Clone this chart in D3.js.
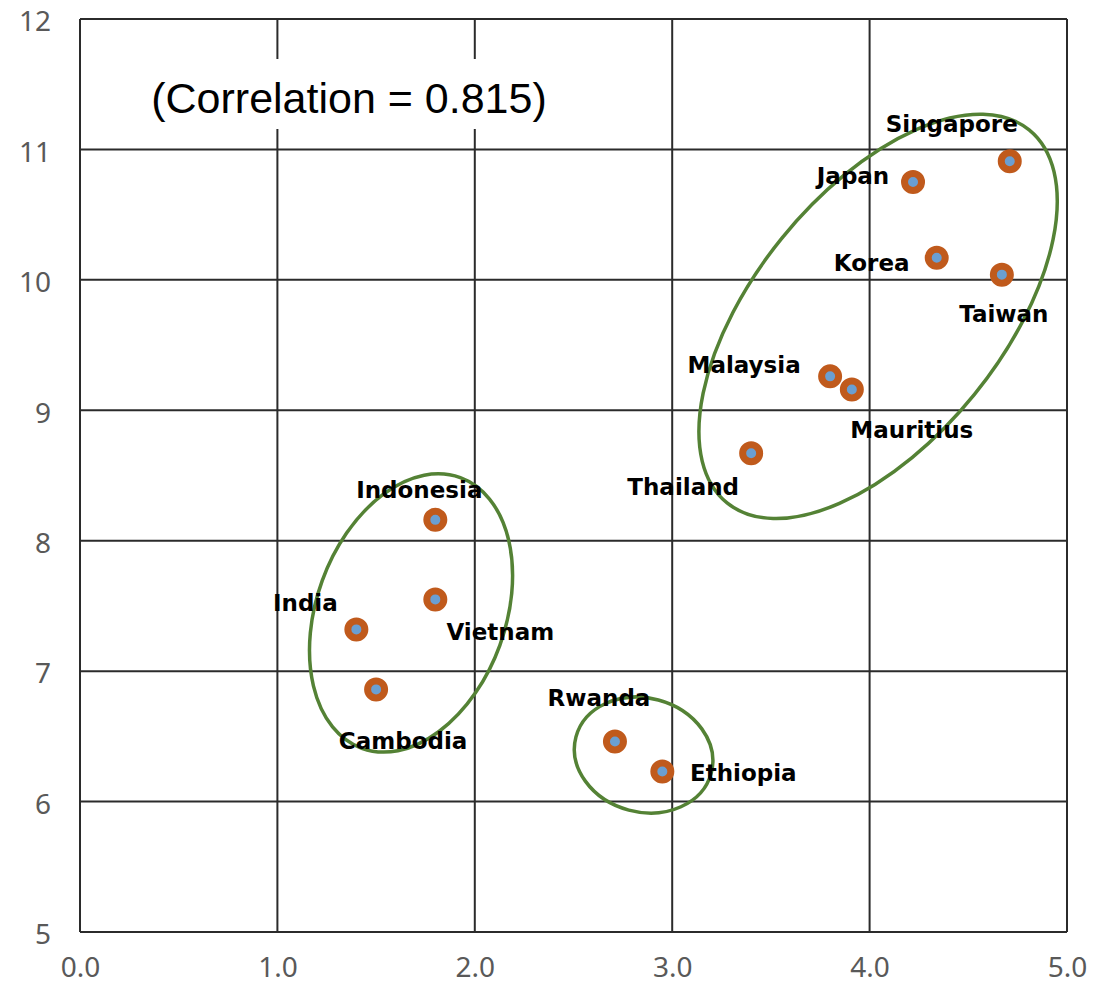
<!DOCTYPE html>
<html>
<head>
<meta charset="utf-8">
<style>
  body { margin: 0; background: #fff; }
  .tick text { font-family: "Noto Sans", "Open Sans", sans-serif; }
</style>
<script src="https://cdn.jsdelivr.net/npm/d3@7"></script>
</head>
<body>
<svg id="chart" width="1107" height="990"></svg>
<script>
// data
var countries = ["Singapore", "Japan", "Korea", "Taiwan", "Malaysia", "Mauritius", "Thailand",
                 "Indonesia", "Vietnam", "India", "Cambodia", "Rwanda", "Ethiopia"];
var xValues = [4.71, 4.22, 4.34, 4.67, 3.80, 3.91, 3.40, 1.80, 1.80, 1.40, 1.50, 2.71, 2.95];
var yValues = [10.91, 10.75, 10.17, 10.04, 9.26, 9.16, 8.67, 8.16, 7.55, 7.32, 6.86, 6.46, 6.23];
var xTicks = [0, 1, 2, 3, 4, 5];
var yTicks = [5, 6, 7, 8, 9, 10, 11, 12];
var title = "(Correlation = 0.815)";

// label placement (pixels from the point, text centred)
var labelOffsets = [[-58, -37], [-60, -6], [-65, 5], [2, 39], [-86, -11], [60, 41], [-68, 34],
                    [-16, -30], [65, 33], [-51, -26], [27, 52], [-16, -44], [81, 1]];

// cluster rings: centre in data units, radii in px, rotation in degrees
var rings = [
  {cx: 4.043, cy: 9.72, rx: 240, ry: 124, rot: -51},
  {cx: 1.677, cy: 7.446, rx: 144, ry: 94.5, rot: -70},
  {cx: 2.855, cy: 6.357, rx: 70, ry: 57, rot: 15}
];

var svg = d3.select("#chart"),
    margin = {top: 19, right: 40, bottom: 58, left: 80},
    width = +svg.attr("width") - margin.left - margin.right,
    height = +svg.attr("height") - margin.top - margin.bottom,
    g = svg.append("g").attr("transform", "translate(" + margin.left + "," + margin.top + ")");

var x = d3.scaleLinear().domain([0, 5]).range([0, width]);
var y = d3.scaleLinear().domain([5, 12]).range([height, 0]);

var gridColor = "#2b2b2b";

// grid
g.append("g").selectAll("line").data(yTicks).enter().append("line")
    .attr("x1", 0).attr("x2", width)
    .attr("y1", function(d) { return y(d); }).attr("y2", function(d) { return y(d); })
    .attr("stroke", gridColor).attr("stroke-width", 2);
g.append("g").selectAll("line").data(xTicks).enter().append("line")
    .attr("y1", 0).attr("y2", height)
    .attr("x1", function(d) { return x(d); }).attr("x2", function(d) { return x(d); })
    .attr("stroke", gridColor).attr("stroke-width", 2);

// axes (labels only)
var xAxis = g.append("g")
    .attr("transform", "translate(0," + height + ")")
    .call(d3.axisBottom(x).tickValues(xTicks).tickFormat(d3.format(".1f")).tickSize(0).tickPadding(25));
var yAxis = g.append("g")
    .call(d3.axisLeft(y).tickValues(yTicks).tickFormat(d3.format("d")).tickSize(0).tickPadding(29));
[xAxis, yAxis].forEach(function(a) {
  a.select(".domain").remove();
  a.selectAll("text").attr("font-size", 28).attr("fill", "#595959");
});
yAxis.selectAll("text").attr("dy", "0.42em");

// title box
var tg = g.append("g");
tg.append("rect")
    .attr("x", 57).attr("y", 40).attr("width", 430).attr("height", 70)
    .attr("fill", "#fff");
tg.append("text")
    .attr("x", 269).attr("y", 94)
    .attr("text-anchor", "middle")
    .attr("font-family", "Liberation Sans, Arial, sans-serif")
    .attr("font-size", 43)
    .attr("fill", "#000")
    .text(title);

// rings
g.append("g").selectAll("ellipse").data(rings).enter().append("ellipse")
    .attr("transform", function(d) {
      return "translate(" + x(d.cx) + "," + y(d.cy) + ") rotate(" + d.rot + ")";
    })
    .attr("rx", function(d) { return d.rx; })
    .attr("ry", function(d) { return d.ry; })
    .attr("fill", "none")
    .attr("stroke", "#548235")
    .attr("stroke-width", 3.5);

// points
var idx = d3.range(countries.length);
g.append("g").selectAll("circle").data(idx).enter().append("circle")
    .attr("cx", function(i) { return x(xValues[i]); })
    .attr("cy", function(i) { return y(yValues[i]); })
    .attr("r", 8.5)
    .attr("fill", "#6a9fd2")
    .attr("stroke", "#c05a1c")
    .attr("stroke-width", 7);

// labels
g.append("g").selectAll("text").data(idx).enter().append("text")
    .attr("x", function(i) { return x(xValues[i]) + labelOffsets[i][0]; })
    .attr("y", function(i) { return y(yValues[i]) + labelOffsets[i][1]; })
    .attr("dy", "0.35em")
    .attr("text-anchor", "middle")
    .attr("font-family", "DejaVu Sans, Verdana, sans-serif")
    .attr("font-weight", "bold")
    .attr("font-size", 23)
    .attr("fill", "#000")
    .text(function(i) { return countries[i]; });
</script>
</body>
</html>
